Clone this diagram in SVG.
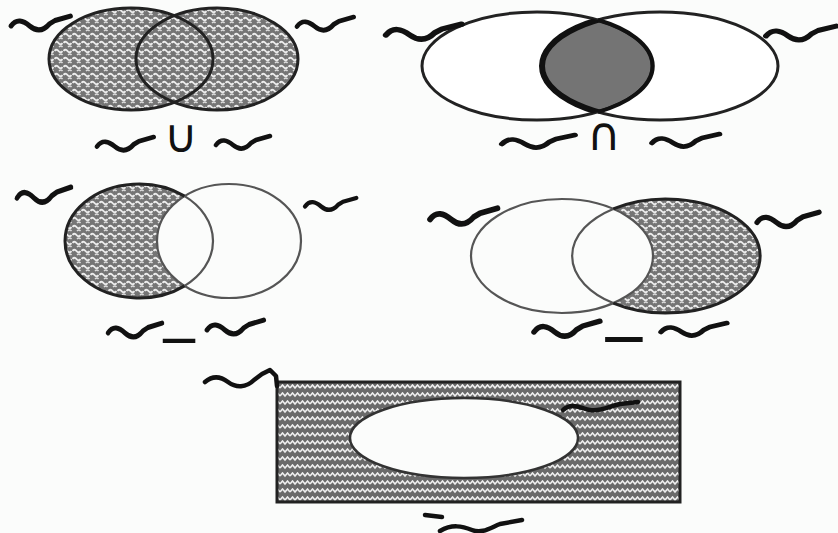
<svg xmlns="http://www.w3.org/2000/svg" width="838" height="533" viewBox="0 0 838 533">
<style>
.bg{fill:#fbfcfb}
.ring{fill:none;stroke:#222;stroke-width:3}
.thin{fill:none;stroke:#555;stroke-width:2.2}
.sq{fill:none;stroke:#111;stroke-width:4.5;stroke-linecap:round;stroke-linejoin:round}
.op{font-family:"DejaVu Sans",sans-serif;fill:#111}
.minus{font-family:"DejaVu Sans",sans-serif;fill:#111;text-anchor:middle}
</style>
<defs>
<pattern id="stip" width="9" height="8" patternUnits="userSpaceOnUse">
<rect width="9" height="8" fill="#757575"/>
<path d="M0.5 3 q2 -2.5 4 0 t4 0" fill="none" stroke="#ececec" stroke-width="1.9"/>
<path d="M5 7 q2 -2 3.5 0" fill="none" stroke="#dddddd" stroke-width="1.5"/>
</pattern>
<pattern id="zig" width="10" height="8" patternUnits="userSpaceOnUse">
<rect width="10" height="8" fill="#6a6a6a"/>
<path d="M0 4 l2.5 -3 l2.5 3 l2.5 -3 l2.5 3" fill="none" stroke="#eeeeee" stroke-width="1.6"/>
</pattern>
<path id="sqg" class="sq" d="M0 10 C5 3 11 5 17 10 S29 15 35 8 L40 5 L54 1"/>
<clipPath id="cl1"><ellipse cx="537" cy="66" rx="115" ry="54"/></clipPath>
</defs>
<rect class="bg" width="838" height="533"/>

<g id="union">
<ellipse cx="131" cy="59" rx="82" ry="51" fill="url(#stip)"/>
<ellipse cx="217" cy="59" rx="81" ry="51" fill="url(#stip)"/>
<ellipse class="ring" cx="131" cy="59" rx="82" ry="51"/>
<ellipse class="ring" cx="217" cy="59" rx="81" ry="51"/>
<use href="#sqg" transform="translate(11,15) scale(1.1)"/>
<use href="#sqg" transform="translate(297,16) scale(1.05)"/>
<use href="#sqg" transform="translate(97,136) scale(1.05)"/>
<text class="op" x="164" y="152" font-size="46">∪</text>
<use href="#sqg" transform="translate(216,135) scale(1)"/>
</g>

<g id="intersection">
<ellipse cx="537" cy="66" rx="115" ry="54" fill="#fff"/>
<ellipse cx="660" cy="66" rx="118" ry="54" fill="#fff"/>
<ellipse cx="660" cy="66" rx="118" ry="54" fill="#747474" clip-path="url(#cl1)"/>
<ellipse class="ring" cx="537" cy="66" rx="115" ry="54"/>
<ellipse class="ring" cx="660" cy="66" rx="118" ry="54"/>
<g clip-path="url(#cl1)"><ellipse cx="660" cy="66" rx="118" ry="54" fill="none" stroke="#111" stroke-width="6"/></g>
<path d="M598 20 A115 54 0 0 1 598 112" fill="none" stroke="#111" stroke-width="4"/>
<use href="#sqg" transform="translate(386,23) scale(1.4,1.2)"/>
<use href="#sqg" transform="translate(766,25) scale(1.3,1.1)"/>
<use href="#sqg" transform="translate(502,134) scale(1.35,1)"/>
<text class="op" x="587" y="150" font-size="46">∩</text>
<use href="#sqg" transform="translate(652,133) scale(1.25,1)"/>
</g>

<g id="difference-ab">
<ellipse cx="139" cy="241" rx="74" ry="57" fill="url(#stip)"/>
<ellipse cx="229" cy="241" rx="72" ry="57" fill="#fbfcfb"/>
<ellipse class="thin" cx="229" cy="241" rx="72" ry="57"/>
<path d="M184.6 196.1 A74 57 0 1 0 184.6 285.9" fill="none" stroke="#222" stroke-width="3"/>
<path d="M184.6 196.1 A74 57 0 0 1 184.6 285.9" class="thin"/>
<use href="#sqg" transform="translate(17,186) scale(1,1.2)"/>
<use href="#sqg" transform="translate(305,197) scale(0.95)"/>
<use href="#sqg" transform="translate(108,322) scale(1,1.1)"/>
<text class="minus" x="179" y="357" font-size="52">−</text>
<use href="#sqg" transform="translate(207,319) scale(1.05,1.1)"/>
</g>

<g id="difference-ba">
<ellipse cx="666" cy="256" rx="94" ry="57" fill="url(#stip)"/>
<ellipse cx="562" cy="256" rx="91" ry="57" fill="#fbfcfb"/>
<ellipse class="thin" cx="562" cy="256" rx="91" ry="57"/>
<path d="M613.2 208.9 A94 57 0 1 1 613.2 303.1" fill="none" stroke="#222" stroke-width="3"/>
<path d="M613.2 208.9 A94 57 0 0 0 613.2 303.1" class="thin"/>
<use href="#sqg" transform="translate(430,207) scale(1.25)"/>
<use href="#sqg" transform="translate(757,211) scale(1.15)"/>
<use href="#sqg" transform="translate(534,320) scale(1.22,1.2)"/>
<text class="minus" x="624" y="358" font-size="60">−</text>
<use href="#sqg" transform="translate(661,322) scale(1.22,1)"/>
</g>

<g id="complement">
<rect x="277" y="382" width="403" height="120" fill="url(#zig)"/>
<rect x="277" y="382" width="403" height="120" fill="none" stroke="#222" stroke-width="3"/>
<ellipse cx="464" cy="438" rx="114" ry="40" fill="#fbfcfb" stroke="#333" stroke-width="2.5"/>
<path class="sq" d="M205 382 C212 376 220 376 228 382 S246 388 254 380 L262 374 L270 370 L276 376 L277 386" stroke-width="3"/>
<path class="sq" d="M563 410 C572 402 580 408 590 410 S610 406 620 404 L638 402"/>
<path class="sq" d="M425 515 L442 517" stroke-width="3"/>
<path class="sq" d="M440 531 C452 524 462 526 472 530 S490 528 500 524 L522 520"/>
</g>
</svg>
